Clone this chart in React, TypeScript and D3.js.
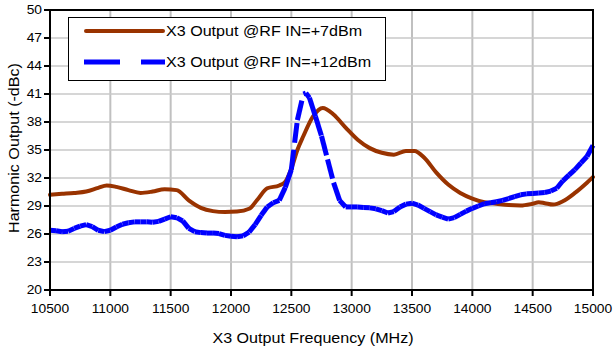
import React from "react";
import * as d3 from "d3";

const xTicks = [10500, 11000, 11500, 12000, 12500, 13000, 13500, 14000, 14500, 15000];
const yTicks = [20, 23, 26, 29, 32, 35, 38, 41, 44, 47, 50];

const seriesNames = ["X3 Output @RF IN=+7dBm", "X3 Output @RF IN=+12dBm"];

const freq7 = [10500, 10600, 10700, 10800, 10900, 10970, 11050, 11150, 11250, 11350, 11450, 11550, 11650, 11750, 11850, 11950, 12050, 12150, 12220, 12300, 12400, 12450, 12500, 12550, 12600, 12680, 12760, 12850, 12950, 13050, 13150, 13250, 13350, 13450, 13520, 13600, 13700, 13800, 13900, 14000, 14100, 14200, 14300, 14400, 14500, 14550, 14600, 14670, 14750, 14850, 14950, 15000];
const out7 = [30.2, 30.3, 30.4, 30.55, 30.95, 31.2, 31.05, 30.7, 30.4, 30.55, 30.8, 30.7, 29.6, 28.8, 28.45, 28.35, 28.4, 28.7, 29.7, 30.9, 31.2, 31.6, 33.0, 35.0, 36.5, 38.6, 39.5, 38.8, 37.4, 36.1, 35.2, 34.7, 34.5, 34.9, 34.9, 34.2, 32.6, 31.3, 30.4, 29.8, 29.4, 29.25, 29.1, 29.05, 29.25, 29.4, 29.3, 29.15, 29.5, 30.4, 31.5, 32.1];

const freq12 = [10500, 10550, 10600, 10650, 10700, 10750, 10800, 10850, 10900, 10950, 11000, 11050, 11100, 11150, 11200, 11250, 11300, 11350, 11400, 11450, 11500, 11550, 11600, 11650, 11700, 11750, 11800, 11850, 11900, 11950, 12000, 12050, 12100, 12150, 12200, 12250, 12300, 12350, 12400, 12450, 12500, 12550, 12600, 12620, 12650, 12700, 12750, 12800, 12850, 12900, 12950, 13000, 13050, 13100, 13150, 13200, 13250, 13300, 13350, 13400, 13450, 13500, 13550, 13600, 13650, 13700, 13750, 13800, 13850, 13900, 13950, 14000, 14050, 14100, 14150, 14200, 14250, 14300, 14350, 14400, 14450, 14500, 14550, 14600, 14650, 14700, 14750, 14800, 14850, 14900, 14950, 15000];
const out12 = [26.4, 26.35, 26.25, 26.3, 26.6, 26.85, 27.0, 26.8, 26.4, 26.25, 26.4, 26.75, 27.05, 27.2, 27.3, 27.3, 27.3, 27.25, 27.35, 27.6, 27.85, 27.75, 27.4, 26.6, 26.25, 26.15, 26.1, 26.1, 26.05, 25.85, 25.75, 25.7, 25.8, 26.2, 27.0, 28.0, 28.9, 29.35, 29.6, 31.0, 32.9, 38.2, 41.0, 41.1, 40.6, 38.6, 36.5, 34.0, 31.5, 29.6, 28.9, 28.9, 28.9, 28.85, 28.8, 28.7, 28.5, 28.25, 28.4, 28.9, 29.2, 29.3, 29.1, 28.75, 28.4, 28.05, 27.8, 27.6, 27.75, 28.1, 28.45, 28.75, 29.0, 29.25, 29.35, 29.45, 29.6, 29.8, 30.0, 30.2, 30.3, 30.35, 30.4, 30.45, 30.6, 30.9, 31.7, 32.3, 32.9, 33.6, 34.3, 35.5];

const W = 613;
const H = 349;
const left = 50, right = 593, top = 10, bottom = 290;
const brown = "#993300";
const blue = "#0000FF";
const font = "Arial, 'Liberation Sans', sans-serif";
const SX = 1.15;

function T(props: { x: number; y: number; size: number; anchor?: string; rotate?: number; dy?: string; children: React.ReactNode }) {
  const { x, y, size, anchor, rotate, dy, children } = props;
  return (
    <text
      transform={`translate(${x},${y}) rotate(${rotate || 0}) scale(${SX},1)`}
      textAnchor={anchor || "start"}
      dy={dy}
      fontFamily={font}
      fontSize={size}
      fill="#000"
    >
      {children}
    </text>
  );
}

export default function App() {
  const x = d3.scaleLinear().domain([10500, 15000]).range([left, right]);
  const y = d3.scaleLinear().domain([20, 50]).range([bottom, top]);

  const d7 = freq7.map((f, i) => [f, out7[i]] as [number, number]);
  const d12 = freq12.map((f, i) => [f, out12[i]] as [number, number]);

  const line7 = d3.line<[number, number]>().x(d => x(d[0])).y(d => y(d[1])).curve(d3.curveMonotoneX);
  const segLine = d3.line<[number, number]>().x(d => x(d[0])).y(d => y(d[1]));

  const segs: [number, number][][] = [];
  for (let i = 0; i < d12.length - 1; i++) segs.push([d12[i], d12[i + 1]]);

  return (
    <svg width={W} height={H} style={{ position: "absolute", left: 0, top: 0, background: "#fff" }}>
      <rect x={0} y={0} width={W} height={H} fill="#fff" />
      {xTicks.map(t => (
        <line key={"gx" + t} x1={x(t)} x2={x(t)} y1={top} y2={bottom} stroke="#c0c0c0" strokeWidth={2} />
      ))}
      {yTicks.map(t => (
        <line key={"gy" + t} x1={left} x2={right} y1={y(t)} y2={y(t)} stroke="#c8c8c8" strokeWidth={1.5} />
      ))}
      <path d={line7(d7) || ""} fill="none" stroke={brown} strokeWidth={4} strokeLinejoin="round" strokeLinecap="round" />
      {segs.map((s, i) => (
        <path key={"s" + i} d={segLine(s) || ""} fill="none" stroke={blue} strokeWidth={5} strokeDasharray="20,7" strokeLinecap="butt" />
      ))}
      <rect x={left} y={top} width={right - left} height={bottom - top} fill="none" stroke="#000" strokeWidth={2} />
      {yTicks.map(t => (
        <g key={"ty" + t}>
          <line x1={left - 6} x2={left} y1={y(t)} y2={y(t)} stroke="#000" strokeWidth={2} />
          <T x={left - 8} y={y(t)} dy="0.35em" anchor="end" size={12}>{t}</T>
        </g>
      ))}
      {xTicks.map(t => (
        <g key={"tx" + t}>
          <line x1={x(t)} x2={x(t)} y1={bottom} y2={bottom + 6} stroke="#000" strokeWidth={2} />
          <T x={x(t)} y={313} anchor="middle" size={12}>{t}</T>
        </g>
      ))}
      <T x={313} y={343} anchor="middle" size={14}>X3 Output Frequency (MHz)</T>
      <T x={19} y={148} rotate={-90} anchor="middle" size={14}>Harmonic Output (-dBc)</T>
      <rect x={68.5} y={17.5} width={317} height={63} fill="#fff" stroke="#000" strokeWidth={1} />
      <line x1={86} x2={163} y1={31} y2={31} stroke={brown} strokeWidth={4} strokeLinecap="round" />
      <T x={166} y={36} size={14}>{seriesNames[0]}</T>
      <line x1={84} x2={165} y1={62} y2={62} stroke={blue} strokeWidth={5} strokeDasharray="36,21" />
      <T x={166} y={67} size={14}>{seriesNames[1]}</T>
    </svg>
  );
}
